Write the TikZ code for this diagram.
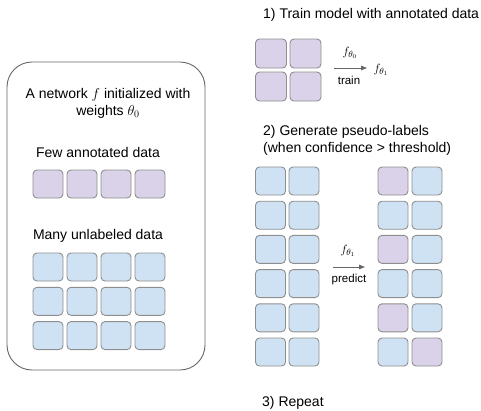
\documentclass[tikz,border=0pt]{standalone}
\usepackage{fontspec}
\setmainfont{Liberation Sans}
\usetikzlibrary{arrows.meta}
\definecolor{lpurple}{HTML}{D9D2E9}
\definecolor{lblue}{HTML}{CFE2F3}
\definecolor{cellborder}{HTML}{8E8E8E}
\definecolor{arrowgray}{HTML}{666666}
\begin{document}
\begin{tikzpicture}[x=1pt,y=-1pt,
  cell/.style={draw=cellborder, line width=0.9pt, rounded corners=4pt, minimum width=30pt, minimum height=28pt, inner sep=0pt},
  pcell/.style={cell, fill=lpurple},
  bcell/.style={cell, fill=lblue},
  txt/.style={font=\fontsize{14}{17}\selectfont, inner sep=0pt},
  small/.style={font=\fontsize{11.5}{13}\selectfont, inner sep=0pt},
  mlab/.style={font=\fontsize{12.5}{14}\selectfont, inner sep=0pt},
  flow/.style={draw=arrowgray, line width=0.9pt, -{Triangle[length=6pt,width=4.5pt]}}
]
\useasboundingbox (0,0) rectangle (481,410);
% left panel
\node[draw=arrowgray, line width=0.9pt, rounded corners=25pt, minimum width=198pt, minimum height=308pt, inner sep=0pt] (panel) at (106,216) {};
\node[txt, align=center] (title) at (108,103.5) {A network $f$ initialized with\\weights $\theta_0$};
\node[txt] (few) at (98,152) {Few annotated data};
\foreach \i in {0,...,3} {
  \node[pcell] (a\i) at ({48+34*\i},184) {};
}
\node[txt] (many) at (98,236) {Many unlabeled data};
\foreach \j in {0,...,2} {
  \foreach \i in {0,...,3} {
    \node[bcell] (u\j\i) at ({48+34*\i},{267+34.3*\j}) {};
  }
}
% step 1
\node[txt, anchor=west] (s1) at (263,15) {1) Train model with annotated data};
\foreach \j in {0,1} {
  \foreach \i in {0,1} {
    \node[pcell, minimum width=31pt, minimum height=29pt] (t\j\i) at ({271+34.5*\i},{53.5+33*\j}) {};
  }
}
\coordinate (tr1) at (334,68);
\coordinate (tr2) at (367,68);
\draw[flow] (tr1) -- (tr2);
\node[mlab] (f0) at (350,53) {$f_{\theta_0}$};
\node[small] (train) at (349,80) {train};
\node[mlab] (f1) at (381,70) {$f_{\theta_1}$};
% step 2
\node[txt, align=left, anchor=west] (s2) at (263,140) {2) Generate pseudo-labels\\(when confidence > threshold)};
\foreach \j in {0,...,5} {
  \foreach \i in {0,1} {
    \node[bcell] (l\j\i) at ({270.5+33.5*\i},{181+34.2*\j}) {};
  }
}
\foreach \j/\i/\s in {0/0/pcell,0/1/bcell,1/0/bcell,1/1/bcell,2/0/pcell,2/1/bcell,3/0/bcell,3/1/bcell,4/0/pcell,4/1/bcell,5/0/bcell,5/1/pcell} {
  \node[\s] (r\j\i) at ({393+34*\i},{181+34.2*\j}) {};
}
\coordinate (pr1) at (333,267);
\coordinate (pr2) at (365,267);
\draw[flow] (pr1) -- (pr2);
\node[mlab] (f1b) at (348,251) {$f_{\theta_1}$};
\node[small] (predict) at (349,280) {predict};
% step 3
\node[txt, anchor=west] (s3) at (262,403) {3) Repeat};
\end{tikzpicture}
\end{document}
